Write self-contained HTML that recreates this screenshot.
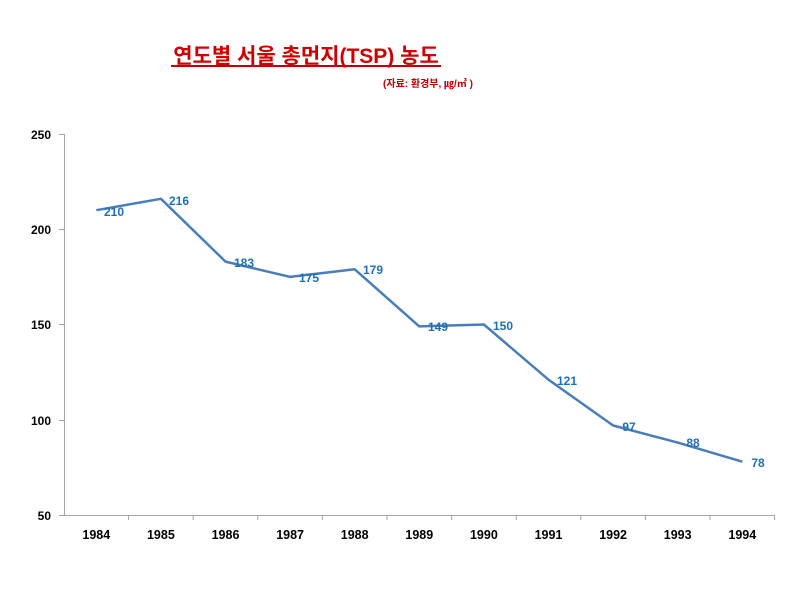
<!DOCTYPE html>
<html><head><meta charset="utf-8"><style>
body{margin:0;background:#fff;}
svg text{font-family:"Liberation Sans","Noto Sans CJK KR",sans-serif;}
</style></head><body>
<svg width="800" height="600" xmlns="http://www.w3.org/2000/svg">
<text x="306" y="63" text-anchor="middle" font-size="21" font-weight="bold" fill="#d00000" font-family="Liberation Sans, Noto Sans CJK KR, sans-serif">연도별 서울 총먼지(TSP) 농도</text>
<line x1="171" y1="66" x2="441" y2="66" stroke="#c00000" stroke-width="2"/>
<text x="428" y="87" text-anchor="middle" font-size="10" font-weight="bold" fill="#c00000">(자료: 환경부, ㎍/㎥ )</text>
<g stroke="#a6a6a6" stroke-width="1">
<line x1="64.5" y1="134" x2="64.5" y2="515"/>
<line x1="64" y1="515.5" x2="775" y2="515.5"/>
<line x1="59" y1="134.5" x2="64" y2="134.5"/>
<line x1="59" y1="229.5" x2="64" y2="229.5"/>
<line x1="59" y1="324.5" x2="64" y2="324.5"/>
<line x1="59" y1="420.5" x2="64" y2="420.5"/>
<line x1="59" y1="515.5" x2="64" y2="515.5"/>
<line x1="128.6" y1="515" x2="128.6" y2="520"/>
<line x1="193.2" y1="515" x2="193.2" y2="520"/>
<line x1="257.8" y1="515" x2="257.8" y2="520"/>
<line x1="322.4" y1="515" x2="322.4" y2="520"/>
<line x1="387" y1="515" x2="387" y2="520"/>
<line x1="451.6" y1="515" x2="451.6" y2="520"/>
<line x1="516.2" y1="515" x2="516.2" y2="520"/>
<line x1="580.8" y1="515" x2="580.8" y2="520"/>
<line x1="645.4" y1="515" x2="645.4" y2="520"/>
<line x1="710" y1="515" x2="710" y2="520"/>
<line x1="774.6" y1="515" x2="774.6" y2="520"/>
</g>
<g font-size="12" font-weight="bold" fill="#000" text-anchor="end">
<text x="51" y="139">250</text><text x="51" y="234">200</text><text x="51" y="329">150</text><text x="51" y="425">100</text><text x="51" y="520">50</text>
</g>
<g font-size="12.5" font-weight="bold" fill="#000" text-anchor="middle">
<text x="96.3" y="539">1984</text><text x="160.9" y="539">1985</text><text x="225.5" y="539">1986</text><text x="290.1" y="539">1987</text><text x="354.7" y="539">1988</text><text x="419.3" y="539">1989</text><text x="483.9" y="539">1990</text><text x="548.5" y="539">1991</text><text x="613.1" y="539">1992</text><text x="677.7" y="539">1993</text><text x="742.3" y="539">1994</text>
</g>
<polyline fill="none" stroke="#4a7ebb" stroke-width="2.5" stroke-linejoin="round" points="96.3,210.2 160.9,198.8 225.5,261.6 290.1,276.9 354.7,269.3 419.3,326.4 483.9,324.5 548.5,379.7 613.1,425.5 677.7,442.6 742.3,461.7"/>
<g font-size="12" font-weight="bold" fill="#1f6fb5" text-anchor="middle">
<text x="114" y="216">210</text><text x="179" y="205">216</text><text x="244" y="267">183</text><text x="309" y="282">175</text><text x="373" y="274">179</text><text x="438" y="331">149</text><text x="503" y="330">150</text><text x="567" y="385">121</text><text x="629" y="431">97</text><text x="693" y="447">88</text><text x="758" y="467">78</text>
</g>
</svg>
</body></html>
